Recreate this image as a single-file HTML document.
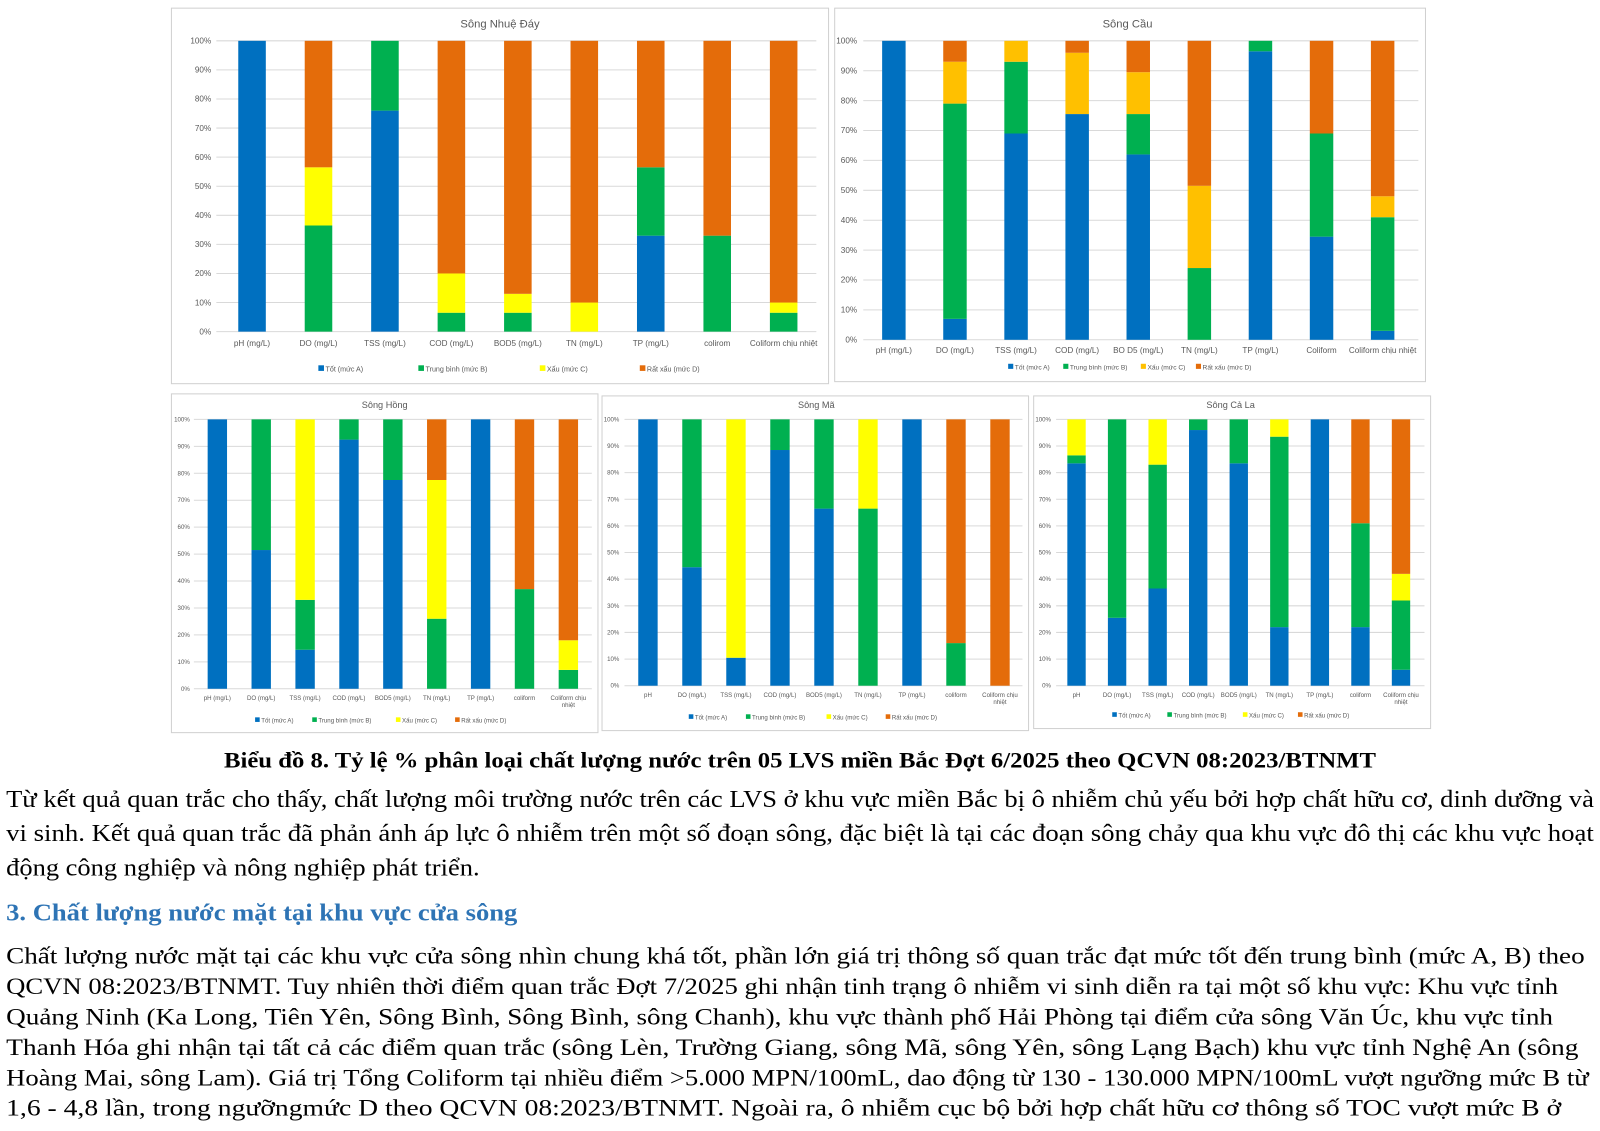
<!DOCTYPE html>
<html><head><meta charset="utf-8"><style>
html,body{margin:0;padding:0;background:#fff;width:1600px;height:1131px;overflow:hidden}
svg{display:block}
</style></head><body>
<svg id="s" xmlns="http://www.w3.org/2000/svg" width="1600" height="1131" viewBox="0 0 1600 1131">
<rect width="1600" height="1131" fill="#fff"/>
<g transform="scale(1.0204)">
<g font-family="Liberation Serif, serif" fill="#000">
<text x="784" y="752" font-size="22" font-weight="bold" text-anchor="middle" textLength="1129" lengthAdjust="spacingAndGlyphs">Biểu đồ 8. Tỷ lệ % phân loại chất lượng nước trên 05 LVS miền Bắc Đợt 6/2025 theo QCVN 08:2023/BTNMT</text>
<text x="6" y="791" font-size="24" textLength="1556" lengthAdjust="spacingAndGlyphs">Từ kết quả quan trắc cho thấy, chất lượng môi trường nước trên các LVS ở khu vực miền Bắc bị ô nhiễm chủ yếu bởi hợp chất hữu cơ, dinh dưỡng và</text>
<text x="6" y="824" font-size="24" textLength="1556" lengthAdjust="spacingAndGlyphs">vi sinh. Kết quả quan trắc đã phản ánh áp lực ô nhiễm trên một số đoạn sông, đặc biệt là tại các đoạn sông chảy qua khu vực đô thị các khu vực hoạt</text>
<text x="6" y="858" font-size="24" textLength="464" lengthAdjust="spacingAndGlyphs">động công nghiệp và nông nghiệp phát triển.</text>
<text x="6" y="902" font-size="24" font-weight="bold" fill="#2E74B5" textLength="501" lengthAdjust="spacingAndGlyphs">3. Chất lượng nước mặt tại khu vực cửa sông</text>
<text x="6" y="944" font-size="23" textLength="1547" lengthAdjust="spacingAndGlyphs">Chất lượng nước mặt tại các khu vực cửa sông nhìn chung khá tốt, phần lớn giá trị thông số quan trắc đạt mức tốt đến trung bình (mức A, B) theo</text>
<text x="6" y="974" font-size="23" textLength="1521" lengthAdjust="spacingAndGlyphs">QCVN 08:2023/BTNMT. Tuy nhiên thời điểm quan trắc Đợt 7/2025 ghi nhận tinh trạng ô nhiễm vi sinh diễn ra tại một số khu vực: Khu vực tỉnh</text>
<text x="6" y="1004" font-size="23" textLength="1516" lengthAdjust="spacingAndGlyphs">Quảng Ninh (Ka Long, Tiên Yên, Sông Bình, Sông Bình, sông Chanh), khu vực thành phố Hải Phòng tại điểm cửa sông Văn Úc, khu vực tỉnh</text>
<text x="6" y="1034" font-size="23" textLength="1541" lengthAdjust="spacingAndGlyphs">Thanh Hóa ghi nhận tại tất cả các điểm quan trắc (sông Lèn, Trường Giang, sông Mã, sông Yên, sông Lạng Bạch) khu vực tỉnh Nghệ An (sông</text>
<text x="6" y="1064" font-size="23" textLength="1551" lengthAdjust="spacingAndGlyphs">Hoàng Mai, sông Lam). Giá trị Tổng Coliform tại nhiều điểm &gt;5.000 MPN/100mL, dao động từ 130 - 130.000 MPN/100mL vượt ngưỡng mức B từ</text>
<text x="6" y="1093" font-size="23" textLength="1524" lengthAdjust="spacingAndGlyphs">1,6 - 4,8 lần, trong ngưỡngmức D theo QCVN 08:2023/BTNMT. Ngoài ra, ô nhiễm cục bộ bởi hợp chất hữu cơ thông số TOC vượt mức B ở</text>
</g>
<g id="charts"></g>
</g>
</svg>
<script>
var NS="http://www.w3.org/2000/svg",G=document.getElementById("charts");
function el(t,a,txt){var e=document.createElementNS(NS,t);for(var k in a)e.setAttribute(k,a[k]);if(txt!=null)e.textContent=txt;G.appendChild(e);return e;}
var BL="#0070C0",GR="#00B050",OR="#E46C0A";
var charts=[
{px:168,py:8,pw:644,ph:368,title:"Sông Nhuệ Đáy",tx:490,ty:27,y1:40,y0:325,yl:207,gx0:212,gx1:800,c0:247,c1:768,bw:27,xly:339,ly:364,fs:8,lfs:7,yel:"#FFFF00",lx:[312,410,529,627],
 d:[[100,0,0,0],[0,36.5,20,43.5],[76,24,0,0],[0,6.5,13.5,80],[0,6.5,6.5,87],[0,0,10,90],[33,23.5,0,43.5],[0,33,0,67],[0,6.5,3.5,90]],labs:["pH (mg/L)","DO (mg/L)","TSS (mg/L)","COD (mg/L)","BOD5 (mg/L)","TN (mg/L)","TP (mg/L)","colirom","Coliform chịu nhiệt"]},
{px:818,py:8,pw:579,ph:366,title:"Sông Cầu",tx:1105,ty:27,y1:40,y0:333,yl:840,gx0:846,gx1:1390,c0:876,c1:1355,bw:23,xly:346,ly:362,fs:8,lfs:6.5,yel:"#FFC000",lx:[988,1042,1118,1172],
 d:[[100,0,0,0],[7,72,14,7],[69,24,7,0],[75.5,0,20.5,4],[62,13.5,14,10.5],[0,24,27.5,48.5],[96.5,3.5,0,0],[34.5,34.5,0,31],[3,38,7,52]],labs:["pH (mg/L)","DO (mg/L)","TSS (mg/L)","COD (mg/L)","BO D5 (mg/L)","TN (mg/L)","TP (mg/L)","Coliform","Coliform chịu nhiệt"]},
{px:168,py:386,pw:418,ph:332,title:"Sông Hồng",tx:377,ty:400,y1:411,y0:675,yl:186,gx0:190,gx1:580,c0:213,c1:557,bw:19,xly:686,ly:708,fs:6,lfs:6,yel:"#FFFF00",lx:[250,306,388,446],
 d:[[100,0,0,0],[51.5,48.5,0,0],[14.5,18.5,67,0],[92.5,7.5,0,0],[77.5,22.5,0,0],[0,26,51.5,22.5],[100,0,0,0],[0,37,0,63],[0,7,11,82]],labs:["pH (mg/L)","DO (mg/L)","TSS (mg/L)","COD (mg/L)","BOD5 (mg/L)","TN (mg/L)","TP (mg/L)","coliform","Coliform chịu|nhiệt"]},
{px:590,py:388,pw:418,ph:328,title:"Sông Mã",tx:800,ty:400,y1:411,y0:672,yl:607,gx0:612,gx1:1002,c0:635,c1:980,bw:19,xly:683,ly:705,fs:6,lfs:6,yel:"#FFFF00",lx:[675,731,810,868],
 d:[[100,0,0,0],[44.5,55.5,0,0],[10.5,0,89.5,0],[88.5,11.5,0,0],[66.5,33.5,0,0],[0,66.5,33.5,0],[100,0,0,0],[0,16,0,84],[0,0,0,100]],labs:["pH","DO (mg/L)","TSS (mg/L)","COD (mg/L)","BOD5 (mg/L)","TN (mg/L)","TP (mg/L)","coliform","Coliform chịu|nhiệt"]},
{px:1013,py:388,pw:389,ph:326,title:"Sông Cả La",tx:1206,ty:400,y1:411,y0:672,yl:1030,gx0:1035,gx1:1396,c0:1055,c1:1373,bw:18,xly:683,ly:703,fs:6,lfs:6,yel:"#FFFF00",lx:[1090,1144,1218,1272],
 d:[[83.5,3,13.5,0],[25.5,74.5,0,0],[36.5,46.5,17,0],[96,4,0,0],[83.5,16.5,0,0],[22,71.5,6.5,0],[100,0,0,0],[22,39,0,39],[6,26,10,58]],labs:["pH","DO (mg/L)","TSS (mg/L)","COD (mg/L)","BOD5 (mg/L)","TN (mg/L)","TP (mg/L)","coliform","Coliform chịu|nhiệt"]}
];
charts.forEach(function(c){
 el("rect",{x:c.px,y:c.py,width:c.pw,height:c.ph,fill:"#fff",stroke:"#d0d0d0","stroke-width":1});
 el("text",{x:c.tx,y:c.ty,"font-family":"Liberation Sans, sans-serif","font-size":c.fs+3,fill:"#595959","text-anchor":"middle"},c.title);
 var h=c.y0-c.y1;
 for(var i=0;i<=10;i++){var y=c.y0-h*i/10;
  el("line",{x1:c.gx0,x2:c.gx1,y1:y,y2:y,stroke:"#d9d9d9","stroke-width":1});
  el("text",{x:c.yl,y:y+c.fs/3,"font-family":"Liberation Sans, sans-serif","font-size":c.fs,fill:"#595959","text-anchor":"end"},(i*10)+"%");}
 var cols=[BL,GR,c.yel,OR];
 c.d.forEach(function(v,j){var cx=c.c0+(c.c1-c.c0)*j/8,acc=0;
  for(var k=0;k<4;k++){if(v[k]<=0)continue;var yt=c.y0-h*(acc+v[k])/100,yb=c.y0-h*acc/100;
   el("rect",{x:cx-c.bw/2,y:yt,width:c.bw,height:yb-yt,fill:cols[k]});acc+=v[k];}
  var L=c.labs[j].split("|");
  L.forEach(function(s,m){el("text",{x:cx,y:c.xly+m*(c.fs+1),"font-family":"Liberation Sans, sans-serif","font-size":c.fs,fill:"#595959","text-anchor":"middle"},s);});
 });
 var names=["Tốt (mức A)","Trung bình (mức B)","Xấu (mức C)","Rất xấu (mức D)"];
 for(var k=0;k<4;k++){el("rect",{x:c.lx[k],y:c.ly-c.lfs+1,width:c.lfs-1.5,height:c.lfs-1.5,fill:cols[k]});
  el("text",{x:c.lx[k]+c.lfs,y:c.ly,"font-family":"Liberation Sans, sans-serif","font-size":c.lfs,fill:"#595959"},names[k]);}
});
</script>
</body></html>
